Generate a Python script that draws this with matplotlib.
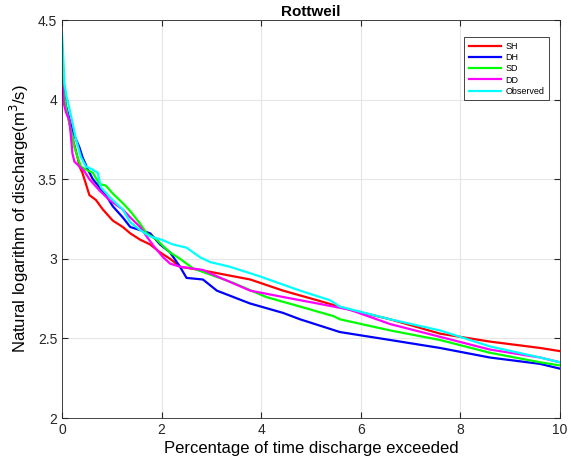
import matplotlib
matplotlib.use("Agg")
import matplotlib.pyplot as plt

plt.rcParams['font.family'] = ['Liberation Sans', 'DejaVu Sans']

sh_x = [0, 0.03, 0.08, 0.15, 0.22, 0.31, 0.35, 0.41, 0.48, 0.55, 0.68, 0.82, 1.02, 1.22, 1.37, 1.57,
        1.77, 1.97, 2.17, 2.37, 2.77, 3.11, 3.78, 4.44, 5.12, 5.78, 6.59, 7.59, 8.59, 9.6, 10.0]
sh_y = [4.30, 4.05, 3.95, 3.85, 3.75, 3.64, 3.58, 3.54, 3.47, 3.40, 3.37, 3.31, 3.24, 3.20, 3.16, 3.12,
        3.09, 3.04, 3.00, 2.95, 2.93, 2.91, 2.87, 2.80, 2.74, 2.68, 2.62, 2.53, 2.48, 2.44, 2.42]

dh_x = [0, 0.03, 0.07, 0.13, 0.2, 0.28, 0.35, 0.41, 0.52, 0.62, 0.75, 0.88, 1.02, 1.22, 1.37, 1.57,
        1.77, 1.97, 2.17, 2.37, 2.5, 2.83, 3.11, 3.77, 4.44, 4.78, 5.58, 6.59, 7.59, 8.59, 9.6, 10.0]
dh_y = [4.30, 4.08, 3.97, 3.90, 3.82, 3.75, 3.70, 3.64, 3.56, 3.50, 3.45, 3.40, 3.33, 3.26, 3.20, 3.18,
        3.16, 3.09, 3.04, 2.95, 2.88, 2.87, 2.80, 2.72, 2.66, 2.62, 2.54, 2.49, 2.44, 2.38, 2.34, 2.31]

sd_x = [0, 0.03, 0.08, 0.15, 0.25, 0.31, 0.38, 0.48, 0.62, 0.75, 0.88, 1.02, 1.22, 1.37, 1.57, 1.70,
        1.90, 2.03, 2.17, 2.37, 2.63, 3.43, 4.1, 4.78, 5.45, 5.58, 6.59, 7.59, 8.59, 9.6, 10.0]
sd_y = [4.28, 4.05, 3.95, 3.85, 3.70, 3.64, 3.58, 3.56, 3.54, 3.47, 3.46, 3.41, 3.35, 3.30, 3.22, 3.16,
        3.12, 3.08, 3.04, 3.00, 2.94, 2.85, 2.76, 2.70, 2.64, 2.62, 2.55, 2.49, 2.41, 2.35, 2.33]

dd_x = [0, 0.02, 0.04, 0.08, 0.15, 0.21, 0.25, 0.35, 0.45, 0.55, 0.75, 0.95, 1.22, 1.37, 1.57, 1.70,
        1.84, 2.03, 2.17, 2.37, 2.83, 3.11, 3.78, 4.44, 5.12, 5.78, 6.59, 7.59, 8.59, 9.6, 10.0]
dd_y = [4.12, 4.05, 3.97, 3.92, 3.87, 3.66, 3.61, 3.58, 3.55, 3.50, 3.43, 3.37, 3.31, 3.26, 3.20, 3.14,
        3.08, 3.01, 2.97, 2.95, 2.93, 2.89, 2.80, 2.76, 2.72, 2.68, 2.59, 2.51, 2.43, 2.38, 2.35]

obs_x = [0, 0.02, 0.05, 0.09, 0.13, 0.2, 0.28, 0.38, 0.48, 0.62, 0.72, 0.78, 0.95, 1.22, 1.37, 1.57,
         1.77, 2.0, 2.23, 2.5, 2.77, 2.97, 3.37, 3.97, 4.78, 5.38, 5.58, 6.59, 7.59, 8.59, 9.6, 10.0]
obs_y = [4.42, 4.30, 4.10, 4.02, 3.97, 3.87, 3.75, 3.64, 3.58, 3.56, 3.54, 3.45, 3.39, 3.31, 3.23, 3.18,
         3.14, 3.12, 3.09, 3.07, 3.01, 2.98, 2.95, 2.89, 2.80, 2.74, 2.70, 2.62, 2.55, 2.45, 2.38, 2.35]

series = [
    ("SH", sh_x, sh_y, "#ff0000"),
    ("DH", dh_x, dh_y, "#0000ff"),
    ("SD", sd_x, sd_y, "#00ff00"),
    ("DD", dd_x, dd_y, "#ff00ff"),
    ("Observed", obs_x, obs_y, "#00ffff"),
]

fig = plt.figure(figsize=(5.71, 4.68), dpi=100)
ax = fig.add_axes([62/571, 1-418/468, (560-62)/571, (418-20)/468])

for name, x, y, c in series:
    ax.plot(x, y, color=c, lw=1.6, label=name)

ax.set_xlim(0, 10)
ax.set_ylim(2, 4.5)
ax.set_xticks([0, 2, 4, 6, 8, 10])
ax.set_yticks([2, 2.5, 3, 3.5, 4, 4.5])
ax.set_yticklabels(["2", "2.5", "3", "3.5", "4", "4.5"])
ax.grid(True, color="#e6e6e6", lw=0.8)
ax.set_axisbelow(True)
ax.tick_params(direction="in", top=True, right=True, labelsize=10, colors="#262626", length=4)
for s in ax.spines.values():
    s.set_color("#262626")
    s.set_linewidth(0.6)

ax.set_title("Rottweil", fontsize=11, fontweight="bold", pad=3)
ax.set_xlabel("Percentage of time discharge exceeded", fontsize=12, labelpad=3)
ax.set_ylabel("Natural logarithm of discharge(m$^3$/s)", fontsize=12, labelpad=5)

leg = ax.legend(loc="upper right", fontsize=6.5, handlelength=3.6, borderpad=0.5,
                labelspacing=0.25, fancybox=False, framealpha=1, handletextpad=0.45,
                borderaxespad=0, bbox_to_anchor=(0.978, 0.9565))
leg.get_frame().set_edgecolor("#262626")
leg.get_frame().set_linewidth(0.6)

fig.savefig("out.png", dpi=100)
